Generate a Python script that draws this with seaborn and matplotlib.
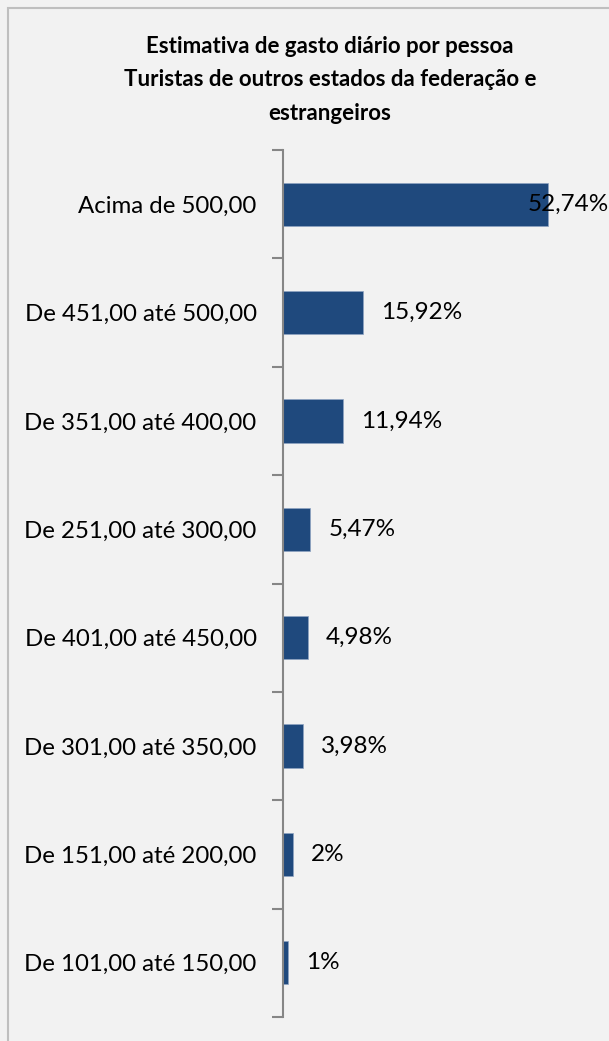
import matplotlib
matplotlib.use("Agg")
import matplotlib.pyplot as plt
import seaborn as sns
import pandas as pd
from matplotlib.patches import Rectangle

categories = ["Acima de 500,00", "De 451,00 até 500,00", "De 351,00 até 400,00",
              "De 251,00 até 300,00", "De 401,00 até 450,00", "De 301,00 até 350,00",
              "De 151,00 até 200,00", "De 101,00 até 150,00"]
values = [52.74, 15.92, 11.94, 5.47, 4.98, 3.98, 2.0, 1.0]
labels = ["52,74%", "15,92%", "11,94%", "5,47%", "4,98%", "3,98%", "2%", "1%"]
title = "Estimativa de gasto diário por pessoa\nTuristas de outros estados da federação e\nestrangeiros"

sns.set_theme(style="white")
plt.rcParams['font.family'] = ['Lato', 'DejaVu Sans']

W, H = 609, 1041
fig = plt.figure(figsize=(W/100, H/100), dpi=100, facecolor="#f2f2f2")
fig.patches.append(Rectangle((8/W, -0.1), 1.2, 1 - 8/H + 0.1, transform=fig.transFigure,
                             fill=False, edgecolor="#bfbfbf", lw=1.5))

ax = fig.add_axes([283/W, 1 - 1017/H, (W - 283)/W, (1017 - 150)/H])
ax.set_facecolor("#f2f2f2")
df = pd.DataFrame({"cat": categories, "val": values})
sns.barplot(data=df, x="val", y="cat", orient="h", color="#1f497d", width=0.40,
            saturation=1, edgecolor="#8ea4c2", linewidth=0.5, ax=ax)
ax.set_xlim(0, 64.9)
ax.set_ylim(7.5, -0.5)
ax.set_xlabel("")
ax.set_ylabel("")
ax.set_xticks([])
for s in ["top", "right", "bottom"]:
    ax.spines[s].set_visible(False)
ax.spines["left"].set_color("#868686")
ax.spines["left"].set_linewidth(1.5)
ax.set_yticks([i - 0.5 for i in range(len(categories) + 1)], minor=True)
ax.tick_params(axis="y", which="minor", length=8, width=1.5, color="#868686", direction="out", left=True)
ax.tick_params(axis="y", which="major", length=0, pad=19, labelsize=17.3, labelcolor="black")

for i, (v, lab) in enumerate(zip(values, labels)):
    off = -14.5 if v > 50 else 13
    ax.annotate(lab, xy=(v, i), xytext=(off, 0), textcoords="offset points",
                ha="left", va="center", fontsize=17.5, color="black", annotation_clip=False)

fig.text(330/W, 1 - 80/H, title, ha="center", va="center", fontsize=16,
         fontweight="bold", linespacing=1.72, color="black")

fig.savefig("out.png", dpi=100, facecolor=fig.get_facecolor())
